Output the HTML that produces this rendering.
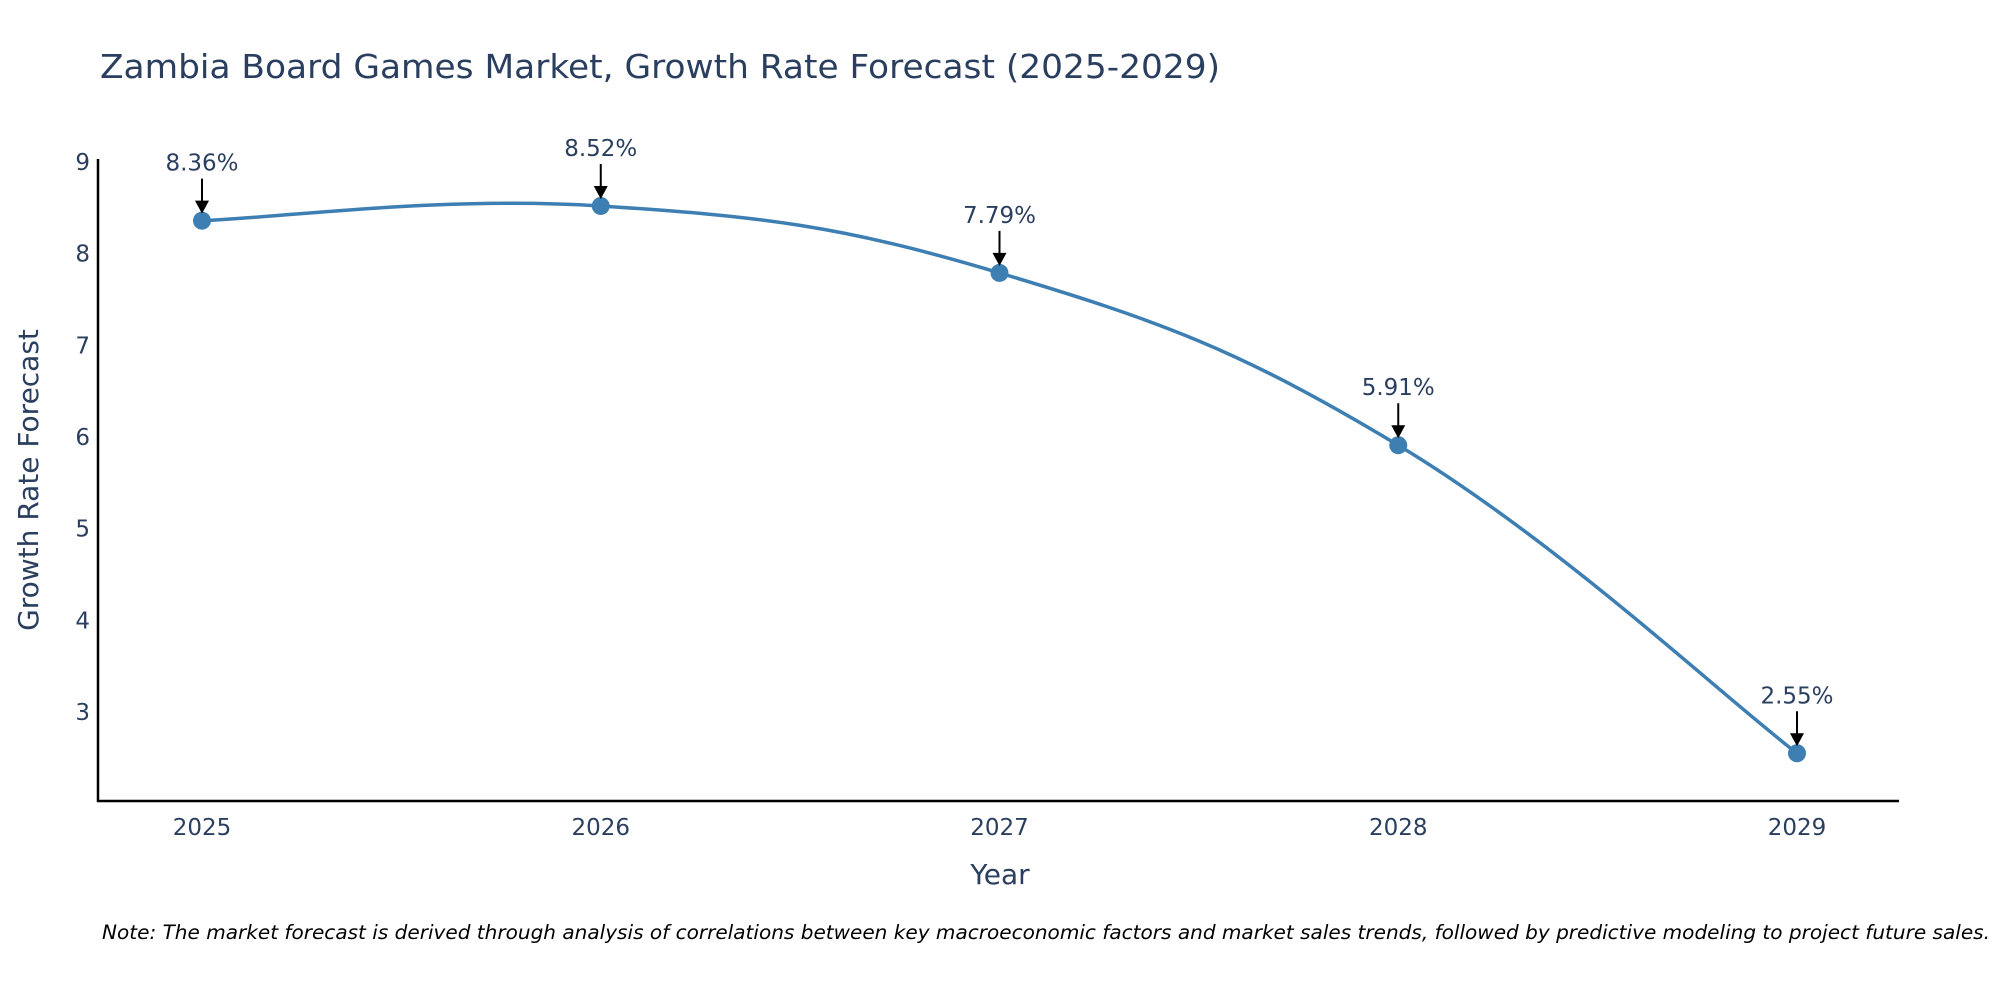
<!DOCTYPE html>
<html><head><meta charset="utf-8">
<style>
html,body{margin:0;padding:0;background:#fff;}
svg{display:block;font-family:"DejaVu Sans","Liberation Sans",sans-serif;}
</style></head>
<body>
<svg id="chart" width="2000" height="1000" viewBox="0 0 2000 1000">
<text x="100" y="78" font-size="33" fill="#2a3f5f" textLength="1120" lengthAdjust="spacingAndGlyphs">Zambia Board Games Market, Growth Rate Forecast (2025-2029)</text>
<g id="yticks"></g>
<g id="xticks"></g>
<line x1="98" y1="159" x2="98" y2="802" stroke="#000" stroke-width="2.5"/>
<line x1="97" y1="801" x2="1899" y2="801" stroke="#000" stroke-width="2.5"/>
<text x="1000" y="884" font-size="28" fill="#2a3f5f" text-anchor="middle">Year</text>
<text transform="translate(38,480) rotate(-90)" font-size="28" fill="#2a3f5f" text-anchor="middle">Growth Rate Forecast</text>
<path id="line" fill="none" stroke="#3d7fb2" stroke-width="3.5"/>
<g id="points"></g>
<g id="annots"></g>
<text x="102" y="939" font-size="19.5" font-style="italic" fill="#000" textLength="1888" lengthAdjust="spacingAndGlyphs">Note: The market forecast is derived through analysis of correlations between key macroeconomic factors and market sales trends, followed by predictive modeling to project future sales.</text>
</svg>
<script>
const years = [2025, 2026, 2027, 2028, 2029];
const values = [8.36, 8.52, 7.79, 5.91, 2.55];
const yTickValues = [3, 4, 5, 6, 7, 8, 9];

const NS = "http://www.w3.org/2000/svg";
function xs(i){ return 202 + (1797 - 202) * (i / (years.length - 1)); }
function ys(v){ return 712 - (v - 3) * 91.67; }
function mk(tag, attrs, parent){ const e = document.createElementNS(NS, tag); for (const k in attrs) e.setAttribute(k, attrs[k]); parent.appendChild(e); return e; }

const yt = document.getElementById('yticks');
yTickValues.forEach(v => {
  const t = mk('text', {x: 90, y: ys(v) + 8, 'font-size': 23, fill: '#2a3f5f', 'text-anchor': 'end'}, yt);
  
  
  t.textContent = v;
});
const xt = document.getElementById('xticks');
years.forEach((y, i) => {
  const t = mk('text', {x: xs(i), y: 835, 'font-size': 23, fill: '#2a3f5f', 'text-anchor': 'middle'}, xt);
  
  
  t.textContent = y;
});

const pts = values.map((v, i) => [xs(i), ys(v)]);
let d = `M${pts[0][0]},${pts[0][1]}`;
const s = 0.2;
for (let i = 0; i < pts.length - 1; i++) {
  const p0 = pts[Math.max(0, i - 1)], p1 = pts[i], p2 = pts[i + 1], p3 = pts[Math.min(pts.length - 1, i + 2)];
  const c1 = [p1[0] + (p2[0] - p0[0]) * s, p1[1] + (p2[1] - p0[1]) * s];
  const c2 = [p2[0] - (p3[0] - p1[0]) * s, p2[1] - (p3[1] - p1[1]) * s];
  d += ` C${c1[0]},${c1[1]} ${c2[0]},${c2[1]} ${p2[0]},${p2[1]}`;
}
document.getElementById('line').setAttribute('d', d);

const pg = document.getElementById('points');
const ag = document.getElementById('annots');
pts.forEach((p, i) => {
  const c = mk('circle', {cx: p[0], cy: p[1], r: 9, fill: '#3d7fb2'}, pg);
  
  
  const a = mk('line', {x1: p[0], y1: p[1] - 42, x2: p[0], y2: p[1] - 18, stroke: '#000', 'stroke-width': 2}, ag);
  
  
  const h = mk('polygon', {points: `${p[0]-7},${p[1]-20} ${p[0]+7},${p[1]-20} ${p[0]},${p[1]-7}`, fill: '#000'}, ag);
  
  
  const t = mk('text', {x: p[0], y: p[1] - 50, 'font-size': 23, fill: '#2a3f5f', 'text-anchor': 'middle'}, ag);
  
  
  t.textContent = values[i].toFixed(2) + '%';
});
</script>
</body></html>
